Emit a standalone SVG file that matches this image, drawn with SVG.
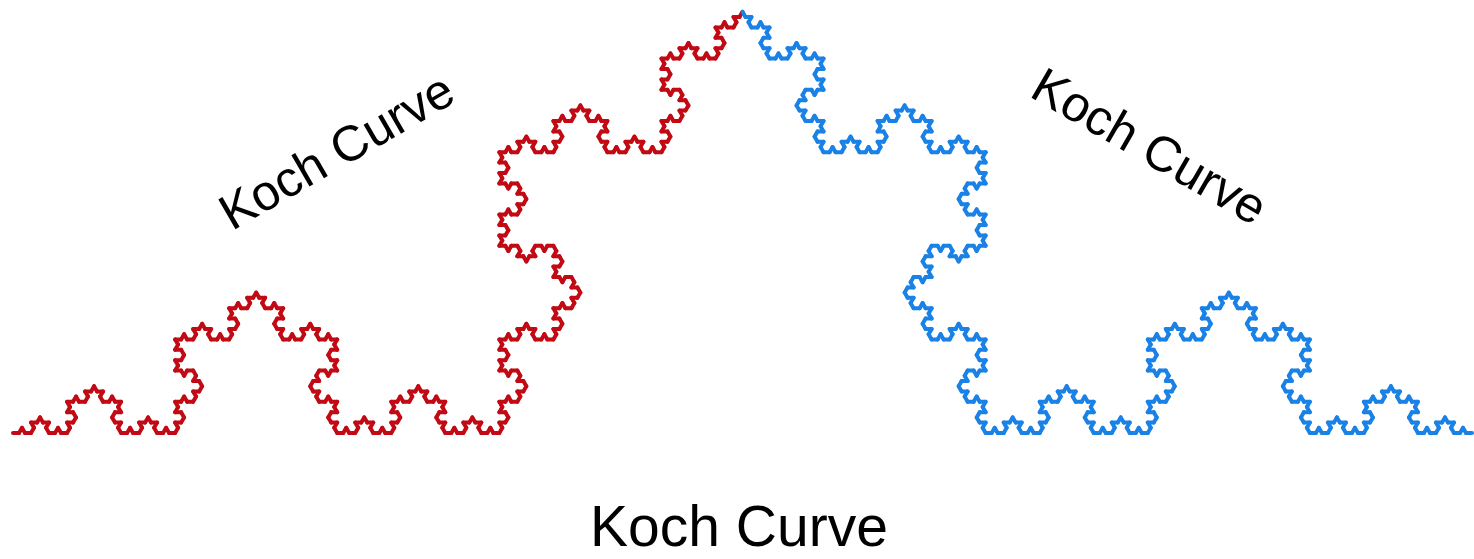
<svg xmlns="http://www.w3.org/2000/svg" xmlns:xlink="http://www.w3.org/1999/xlink" width="1474" height="559" viewBox="0 0 1474 559">
<style>
.seg{fill:none;stroke-width:4;stroke-linecap:round;stroke-linejoin:round}
.lbl{font-family:"Liberation Sans",Arial,sans-serif;fill:#000;text-anchor:middle}
</style>
<defs>
<path id="k0" class="seg" d="M0 0H1" vector-effect="non-scaling-stroke"/>
<g id="k1">
<use href="#k0" transform="scale(0.33333333)"/>
<use href="#k0" transform="translate(0.33333333 0) rotate(-60) scale(0.33333333)"/>
<use href="#k0" transform="translate(0.5 -0.28867513) rotate(60) scale(0.33333333)"/>
<use href="#k0" transform="translate(0.66666667 0) scale(0.33333333)"/>
</g>
<g id="k2">
<use href="#k1" transform="scale(0.33333333)"/>
<use href="#k1" transform="translate(0.33333333 0) rotate(-60) scale(0.33333333)"/>
<use href="#k1" transform="translate(0.5 -0.28867513) rotate(60) scale(0.33333333)"/>
<use href="#k1" transform="translate(0.66666667 0) scale(0.33333333)"/>
</g>
<g id="k3">
<use href="#k2" transform="scale(0.33333333)"/>
<use href="#k2" transform="translate(0.33333333 0) rotate(-60) scale(0.33333333)"/>
<use href="#k2" transform="translate(0.5 -0.28867513) rotate(60) scale(0.33333333)"/>
<use href="#k2" transform="translate(0.66666667 0) scale(0.33333333)"/>
</g>
<g id="k4">
<use href="#k3" transform="scale(0.33333333)"/>
<use href="#k3" transform="translate(0.33333333 0) rotate(-60) scale(0.33333333)"/>
<use href="#k3" transform="translate(0.5 -0.28867513) rotate(60) scale(0.33333333)"/>
<use href="#k3" transform="translate(0.66666667 0) scale(0.33333333)"/>
</g>
</defs>
<rect width="1474" height="559" fill="#fff"/>
<g id="curve-red" stroke="#c20a14" transform="translate(13 433) scale(1459)">
<use href="#k4" transform="scale(0.33333333)"/>
<use href="#k4" transform="translate(0.33333333 0) rotate(-60) scale(0.33333333)"/>
</g>
<g id="curve-blue" stroke="#1a82e6" transform="translate(13 433) scale(1459)">
<use href="#k4" transform="translate(0.5 -0.28867513) rotate(60) scale(0.33333333)"/>
<use href="#k4" transform="translate(0.66666667 0) scale(0.33333333)"/>
</g>
<g id="labels">
<text class="lbl" font-size="50" transform="translate(345 166) rotate(-30)">Koch Curve</text>
<text class="lbl" font-size="50" transform="translate(1141 161) rotate(30)">Koch Curve</text>
<text class="lbl" font-size="57" x="739" y="546">Koch Curve</text>
</g>
</svg>
